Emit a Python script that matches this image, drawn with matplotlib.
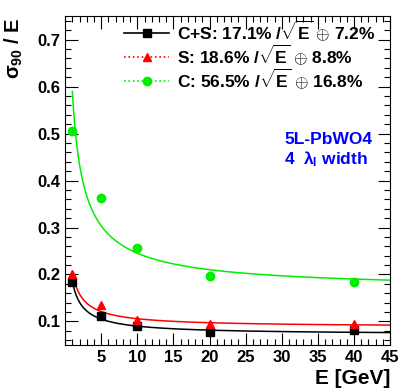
import numpy as np
import matplotlib
matplotlib.use('Agg')
import matplotlib.pyplot as plt
from matplotlib.ticker import MultipleLocator

plt.rcParams['font.family'] = ['Liberation Sans', 'DejaVu Sans']
plt.rcParams['font.weight'] = 'bold'
plt.rcParams['mathtext.fontset'] = 'custom'
plt.rcParams['mathtext.rm'] = 'Liberation Sans:bold'
plt.rcParams['mathtext.it'] = 'Liberation Sans:bold'
plt.rcParams['mathtext.bf'] = 'Liberation Sans:bold'

energy = [1, 5, 10, 20, 40]
res_cs = [0.183, 0.111, 0.090, 0.077, 0.081]
res_s = [0.200, 0.134, 0.104, 0.094, 0.094]
res_c = [0.506, 0.362, 0.256, 0.196, 0.183]

# fit parameters: stochastic term, constant term
fit_cs = (0.171, 0.072)
fit_s = (0.186, 0.088)
fit_c = (0.565, 0.168)

labels = [r'C+S: 17.1% /$\sqrt{\mathrm{E}}$ $\oplus$ 7.2%',
          r'S: 18.6% /$\sqrt{\mathrm{E}}$ $\oplus$ 8.8%',
          r'C: 56.5% /$\sqrt{\mathrm{E}}$ $\oplus$ 16.8%']

fig = plt.figure(figsize=(4.07, 3.92), dpi=100)
ax = fig.add_axes([0.16, 0.12, 0.7985, 0.839])

e = np.linspace(1, 45, 400)
for (a, b), col in [(fit_c, '#00ee00'), (fit_s, 'red'), (fit_cs, 'black')]:
    ax.plot(e, np.sqrt(a**2 / e + b**2), color=col, lw=1.1)

h_cs, = ax.plot(energy, res_cs, ls='none', marker='s', ms=5.5, color='black')
h_s, = ax.plot(energy, res_s, ls='none', marker='^', ms=6, color='red')
h_c, = ax.plot(energy, res_c, ls='none', marker='o', ms=6, color='#00ee00')

# legend proxies
p_cs, = ax.plot([], [], color='black', lw=1.2, marker='s', ms=5.5)
p_s, = ax.plot([], [], color='red', lw=1.2, ls=':', marker='^', ms=6)
p_c, = ax.plot([], [], color='#00ee00', lw=1.2, ls=':', marker='o', ms=6)
leg = ax.legend([p_cs, p_s, p_c], labels, loc='upper left',
                bbox_to_anchor=(0.15, 1.025), frameon=False, fontsize=12.5,
                handlelength=2.6, handletextpad=0.45, labelspacing=-0.02,
                borderaxespad=0.2)

ax.set_xlim(0, 45)
ax.set_ylim(0.05, 0.75)
ax.xaxis.set_major_locator(MultipleLocator(5))
ax.xaxis.set_minor_locator(MultipleLocator(1))
ax.yaxis.set_major_locator(MultipleLocator(0.1))
ax.yaxis.set_minor_locator(MultipleLocator(0.02))
ax.tick_params(which='both', direction='in', top=True, right=True,
               labelsize=12, width=0.8)
ax.tick_params(which='major', length=9)
ax.tick_params(which='minor', length=4.5)
ax.set_xticks([5, 10, 15, 20, 25, 30, 35, 40, 45])
ax.set_yticks([0.1, 0.2, 0.3, 0.4, 0.5, 0.6, 0.7])
for lab in ax.get_xticklabels() + ax.get_yticklabels():
    lab.set_fontweight('bold')

ax.text(0.675, 0.61, '5L-PbWO4', color='blue', fontsize=12.5,
        fontweight='bold', transform=ax.transAxes)
ax.text(0.675, 0.55, r'4  $\lambda_{\mathrm{I}}$ width', color='blue',
        fontsize=12.5, fontweight='bold', transform=ax.transAxes)

fig.text(0.035, 0.955, r'$\sigma_{90}$ / E', rotation=90, fontsize=14.5,
         fontweight='bold', ha='center', va='top')
fig.text(0.958, 0.035, 'E [GeV]', fontsize=15, fontweight='bold',
         ha='right', va='center')

fig.savefig('out.png', dpi=100)
